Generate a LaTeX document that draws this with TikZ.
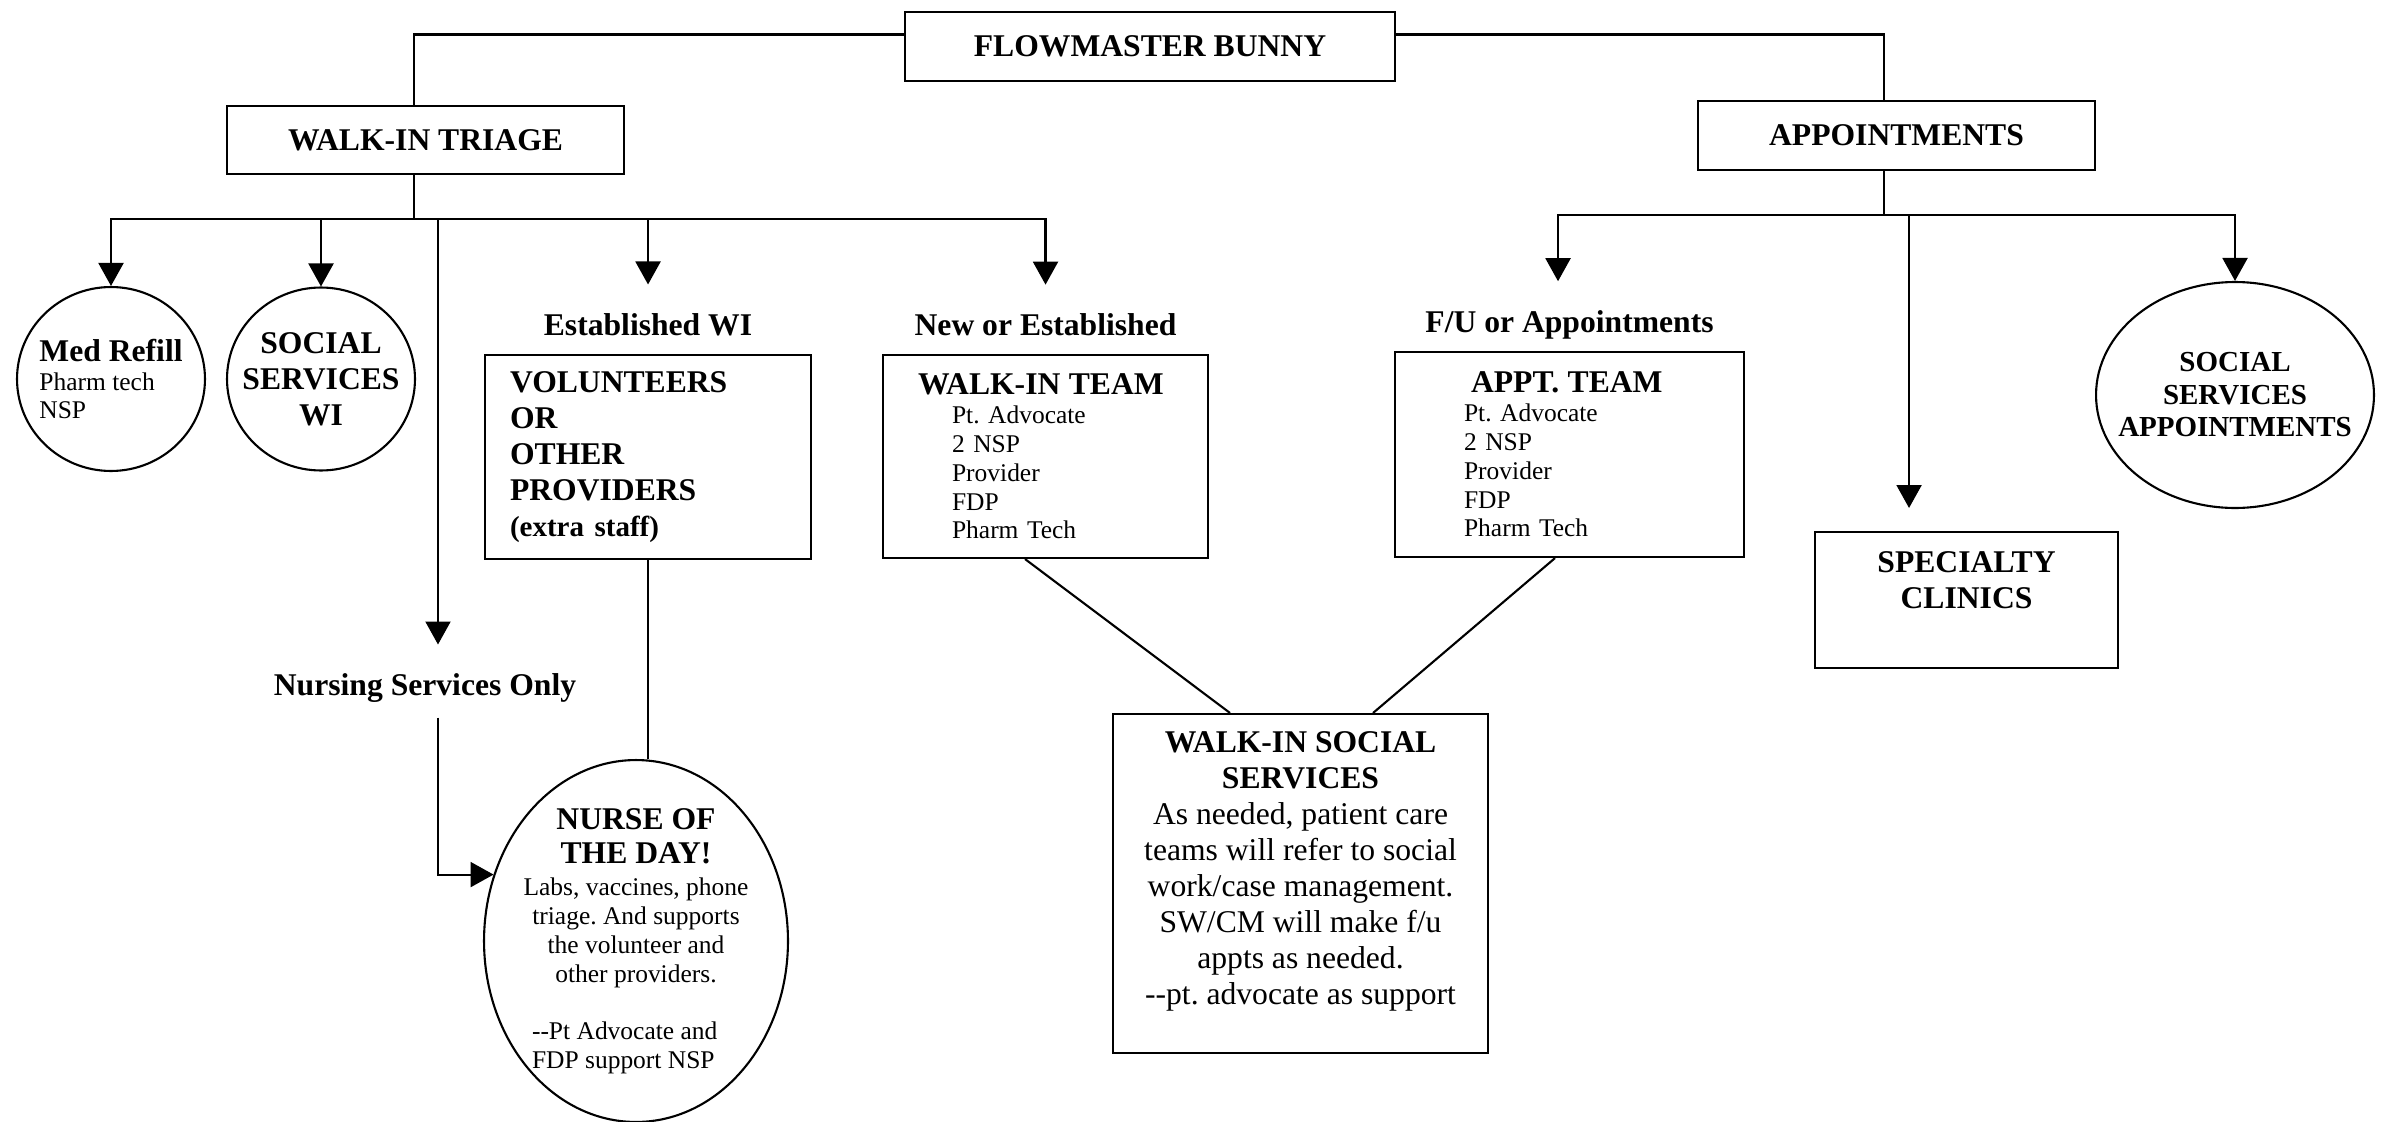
\documentclass[tikz,border=0pt]{standalone}
\usepackage{fontspec}
\setmainfont{Liberation Serif}
\usepackage{tikz}
\usetikzlibrary{positioning,shapes.geometric,arrows.meta}
\newcommand{\HeadFont}{\fontsize{18}{20.5}\selectfont}
\newcommand{\ListFont}{\fontsize{14.5}{16.4}\selectfont}
\newcommand{\ApptFont}{\fontsize{16.5}{18.5}\selectfont}
\newcommand{\Ind}{\hspace*{0.68cm}}
\frenchspacing

\begin{document}
\begin{tikzpicture}[x=0.02cm, y=-0.02cm, line width=1.2pt,
    headbox/.style={draw, font=\HeadFont\bfseries, inner sep=0pt,
      minimum width=7.94cm, minimum height=1.37cm},
    teambox/.style={draw, anchor=north west, align=left, inner ysep=0pt},
    bubble/.style={ellipse, draw, inner sep=-0.5cm},
    lbl/.style={font=\HeadFont\bfseries, inner xsep=0pt, inner ysep=0.28cm},
    flowarrow/.style={-{Triangle[length=0.46cm,width=0.5cm]}}]
  \useasboundingbox (0,0) rectangle (2386,1122);

  % Define nodes
  \node[headbox, minimum width=9.8cm] (flow) at (1150,46.5) {FLOWMASTER BUNNY};
  \node[headbox] (triage) at (425.5,140) {WALK-IN TRIAGE};
  \node[headbox] (appts) at (1896.5,135.5) {APPOINTMENTS};
  \coordinate (wbus) at (414,219);
  \coordinate (abus) at (1884,215);

  \node[bubble, align=left, font=\ListFont, minimum width=3.76cm, minimum height=3.68cm] (medref) at (111,379)
    {{\HeadFont\bfseries Med Refill}\\Pharm tech\\NSP};
  \node[bubble, align=center, font=\HeadFont\bfseries, minimum width=3.76cm, minimum height=3.66cm] (sswi) at (321,379)
    {SOCIAL\\SERVICES\\WI};

  \node[teambox, font=\HeadFont\bfseries, text width=5.52cm, inner xsep=0.5cm, minimum height=4.08cm] (vol) at (484,354)
    {VOLUNTEERS\\OR\\OTHER\\PROVIDERS\\{\fontsize{16.5}{18}\selectfont (extra staff)}};
  \node[lbl, above=0.06cm of vol] (estlbl) {Established WI};

  \node[teambox, font=\ListFont, text width=5.1cm, inner xsep=0.7cm, minimum height=4.06cm] (wteam) at (882,354)
    {\mbox{\HeadFont\bfseries WALK-IN TEAM}\\\Ind Pt. Advocate\\\Ind 2 NSP\\\Ind Provider\\\Ind FDP\\\Ind Pharm Tech};
  \node[lbl, above=0.06cm of wteam] (newlbl) {New or Established};

  \node[teambox, font=\ListFont, text width=4.22cm, inner xsep=1.38cm, minimum height=4.1cm] (ateam) at (1394,351)
    {\hspace*{0.14cm}\mbox{\HeadFont\bfseries APPT. TEAM}\\Pt. Advocate\\2 NSP\\Provider\\FDP\\Pharm Tech};
  \node[lbl, above=-0.06cm of ateam] (fulbl) {F/U or Appointments};

  \node[teambox, align=center, font=\HeadFont\bfseries, minimum width=6.06cm, minimum height=2.72cm] (spec) at (1814,531)
    {SPECIALTY\\CLINICS\\[-4pt]\strut};
  \node[bubble, align=center, font=\ApptFont\bfseries, minimum width=5.56cm, minimum height=4.52cm] (ssap) at (2235,395)
    {SOCIAL\\SERVICES\\APPOINTMENTS};

  \node[lbl] (nurslbl) at (425,688) {Nursing Services Only};
  \node[bubble, align=center, font=\ListFont, minimum width=6.08cm, minimum height=7.24cm] (nurse) at (636,941)
    {{\HeadFont\bfseries NURSE OF}\\[3pt]{\HeadFont\bfseries THE DAY!}\\[2pt]Labs, vaccines, phone\\triage. And supports\\the volunteer and\\other providers.\\[16pt]\makebox[4.16cm][l]{-\kern0pt-Pt Advocate and}\\\makebox[4.16cm][l]{FDP support NSP}};

  \node[teambox, align=center, font=\HeadFont, minimum width=7.5cm, minimum height=6.78cm] (wss) at (1112,713)
    {{\bfseries WALK-IN SOCIAL}\\{\bfseries SERVICES}\\As needed, patient care\\teams will refer to social\\work/case management.\\SW/CM will make f/u\\appts as needed.\\-\kern0pt-pt. advocate as support\\[-9pt]\strut};

  % Connect the nodes
  \draw ([yshift=0.24cm]flow.west) -| (triage.north -| wbus);
  \draw ([yshift=0.24cm]flow.east) -| (appts.north -| abus);

  \draw (triage.south -| wbus) -- (wbus);
  \draw[flowarrow] (wbus) -| (medref);
  \draw[flowarrow] (wbus) -| (sswi);
  \draw[flowarrow, shorten >=0.28cm] (wbus) -| ([xshift=0.26cm]nurslbl.north);
  \draw[flowarrow, shorten >=0.28cm] (wbus) -| (estlbl);
  \draw[flowarrow, shorten >=0.28cm] (wbus) -| (newlbl);
  \draw[flowarrow] ([xshift=0.26cm]nurslbl.south) |- (nurse.155);
  \draw (vol) -- (vol |- nurse.north);

  \draw (appts.south -| abus) -- (abus);
  \draw[flowarrow, shorten >=0.28cm] (abus) -| ([xshift=-0.23cm]fulbl.north);
  \draw[flowarrow, shorten >=0.46cm] (abus) -| ([xshift=-1.15cm]spec.north);
  \draw[flowarrow] (abus) -| (ssap);

  \draw ([xshift=-0.41cm]wteam.south) -- ([xshift=-1.41cm]wss.north);
  \draw ([xshift=-0.29cm]ateam.south) -- ([xshift=1.45cm]wss.north);
\end{tikzpicture}
\end{document}
